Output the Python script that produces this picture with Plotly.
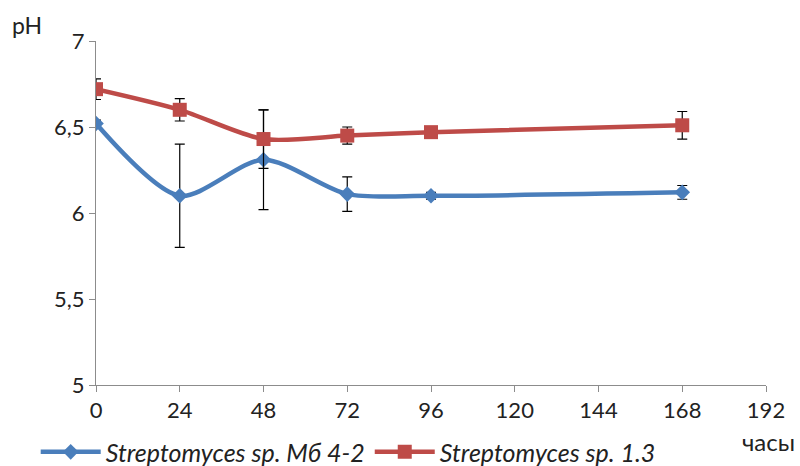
import plotly.graph_objects as go

hours = [0, 24, 48, 72, 96, 168]

ph_mb42 = [6.52, 6.10, 6.31, 6.11, 6.10, 6.12]
err_mb42 = [0.02, 0.30, 0.29, 0.10, 0.02, 0.04]

ph_13 = [6.72, 6.60, 6.43, 6.45, 6.47, 6.51]
err_13 = [0.06, 0.065, 0.17, 0.05, 0.0, 0.08]

x_ticks = [0, 24, 48, 72, 96, 120, 144, 168, 192]
y_ticks = [5, 5.5, 6, 6.5, 7]
y_labels = ["5", "5,5", "6", "6,5", "7"]

blue = "#4a7ebb"
red = "#be4b48"
font_family = "Lato, 'Open Sans', sans-serif"

fig = go.Figure()

fig.add_trace(go.Scatter(
    x=hours, y=ph_mb42, name="Streptomyces sp. Мб 4-2",
    mode="lines+markers",
    line=dict(color=blue, width=4.5, shape="spline", smoothing=0.8),
    marker=dict(symbol="diamond", size=12, color=blue),
    error_y=dict(type="data", array=err_mb42, color="black", thickness=1.2, width=5),
))
fig.add_trace(go.Scatter(
    x=hours, y=ph_13, name="Streptomyces sp. 1.3",
    mode="lines+markers",
    line=dict(color=red, width=4.5, shape="spline", smoothing=0.8),
    marker=dict(symbol="square", size=14, color=red),
    error_y=dict(type="data", array=err_13, color="black", thickness=1.2, width=5),
))

fig.update_layout(
    width=800, height=466,
    margin=dict(l=96, r=34, t=41, b=81, autoexpand=False),
    plot_bgcolor="white", paper_bgcolor="white",
    font=dict(family=font_family, size=22, color="#222"),
    showlegend=True,
    legend=dict(
        orientation="h", x=-0.09, xanchor="left", y=-0.195, yanchor="middle",
        font=dict(size=25, style="italic"), itemwidth=60,
        tracegroupgap=0, traceorder="normal", bgcolor="rgba(0,0,0,0)",
    ),
    xaxis=dict(
        range=[0, 192], tickvals=x_ticks, ticktext=[str(v) for v in x_ticks],
        showgrid=False, zeroline=False, showline=True, linecolor="#8c8c8c", linewidth=1,
        ticks="outside", ticklen=6, tickcolor="#8c8c8c",
    ),
    yaxis=dict(
        range=[5, 7], tickvals=y_ticks, ticktext=y_labels,
        showgrid=False, zeroline=False, showline=True, linecolor="#8c8c8c", linewidth=1,
        ticks="outside", ticklen=6, tickcolor="#8c8c8c",
    ),
    annotations=[
        dict(text="pH", x=-0.103, y=1.047, xref="paper", yref="paper", showarrow=False,
             xanchor="center", yanchor="middle", font=dict(size=23)),
        dict(text="часы", x=1.003, y=-0.165, xref="paper", yref="paper", showarrow=False,
             xanchor="center", yanchor="middle", font=dict(size=24)),
    ],
)

fig.write_html("out.html")
